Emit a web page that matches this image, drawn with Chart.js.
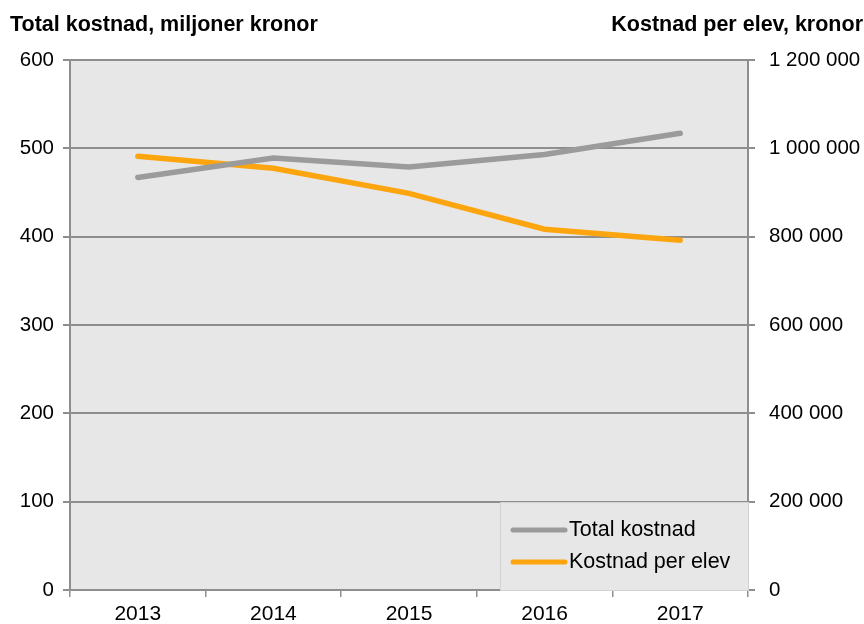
<!DOCTYPE html>
<html>
<head>
<meta charset="utf-8">
<script src="https://cdn.jsdelivr.net/npm/chart.js@4/dist/chart.umd.min.js"></script>
<style>
  html, body { margin: 0; padding: 0; background: #fff; }
  #wrap { position: relative; width: 864px; height: 624px; }
</style>
</head>
<body>
<div id="wrap"><canvas id="costChart" width="864" height="624"></canvas></div>
<script>
// Data
const years = ["2013", "2014", "2015", "2016", "2017"];
const totalCost = [467, 489, 479, 493, 517];              // miljoner kronor
const costPerPupil = [982000, 955000, 898000, 817000, 792000]; // kronor

const leftTitle = "Total kostnad, miljoner kronor";
const rightTitle = "Kostnad per elev, kronor";

const gridColor = "#8e8e8e";
const fontFamily = "'Liberation Sans', Arial, sans-serif";

// plot area background + titles + legend inside the plot
const extras = {
  id: "extras",
  beforeDraw(chart) {
    const { ctx, chartArea: a } = chart;
    ctx.save();
    ctx.fillStyle = "#e7e7e7";
    ctx.fillRect(a.left, a.top, a.right - a.left, a.bottom - a.top);
    ctx.restore();
  },
  afterDraw(chart) {
    const { ctx, chartArea: a } = chart;
    ctx.save();
    ctx.fillStyle = "#000";
    ctx.font = "bold 21.5px " + fontFamily;
    ctx.textBaseline = "middle";
    ctx.textAlign = "left";
    ctx.fillText(leftTitle, 10, 25);
    ctx.textAlign = "right";
    ctx.fillText(rightTitle, 863, 25);

    // legend
    const boxX = 500, boxY = 502, boxW = a.right - 500, boxH = a.bottom - 502;
    ctx.fillStyle = "#e7e7e7";
    ctx.fillRect(boxX, boxY, boxW, boxH);
    ctx.strokeStyle = "#d2d2d2";
    ctx.lineWidth = 1;
    ctx.strokeRect(boxX + 0.5, boxY + 0.5, boxW, boxH);
    ctx.font = "21.5px " + fontFamily;
    ctx.textAlign = "left";
    chart.data.datasets.forEach((ds, i) => {
      const y = 530 + i * 32;
      ctx.strokeStyle = ds.borderColor;
      ctx.lineWidth = 5;
      ctx.lineCap = "round";
      ctx.beginPath();
      ctx.moveTo(513, y);
      ctx.lineTo(565, y);
      ctx.stroke();
      ctx.fillStyle = "#000";
      ctx.fillText(ds.label, 569, y);
    });
    ctx.restore();
  },
};

const ctx = document.getElementById("costChart").getContext("2d");
new Chart(ctx, {
  type: "line",
  data: {
    labels: years,
    datasets: [
      {
        label: "Total kostnad",
        data: totalCost,
        yAxisID: "y",
        borderColor: "#9b9b9b",
        borderWidth: 5.5,
        borderCapStyle: "round",
        pointRadius: 0,
        tension: 0,
      },
      {
        label: "Kostnad per elev",
        data: costPerPupil,
        yAxisID: "y1",
        borderColor: "#fca50e",
        borderWidth: 5.5,
        borderCapStyle: "round",
        pointRadius: 0,
        tension: 0,
      },
    ],
  },
  options: {
    responsive: false,
    animation: false,
    layout: { padding: { top: 60, left: 0, right: 0, bottom: 0 } },
    plugins: {
      legend: { display: false },
      tooltip: { enabled: false },
    },
    scales: {
      x: {
        offset: true,
        grid: {
          offset: true,
          drawOnChartArea: false,
          drawTicks: true,
          tickLength: 7,
          color: gridColor,
          lineWidth: 1.5,
        },
        border: { color: gridColor, width: 2 },
        ticks: { color: "#000", font: { size: 21, family: fontFamily }, padding: 5 },
        afterFit(scale) { scale.height = 34; },
      },
      y: {
        position: "left",
        min: 0,
        max: 600,
        ticks: { stepSize: 100, color: "#000", font: { size: 20.5, family: fontFamily }, padding: 9 },
        grid: { color: gridColor, lineWidth: 2, tickLength: 7 },
        border: { color: gridColor, width: 2 },
        afterFit(scale) { scale.width = 70; },
      },
      y1: {
        position: "right",
        min: 0,
        max: 1200000,
        ticks: {
          stepSize: 200000,
          color: "#000",
          font: { size: 20.5, family: fontFamily },
          padding: 14,
          callback: (v) => String(v).replace(/\B(?=(\d{3})+(?!\d))/g, " "),
        },
        grid: { drawOnChartArea: false, color: gridColor, lineWidth: 2, tickLength: 7 },
        border: { color: gridColor, width: 2 },
        afterFit(scale) { scale.width = 116; },
      },
    },
  },
  plugins: [extras],
});
</script>
</body>
</html>
